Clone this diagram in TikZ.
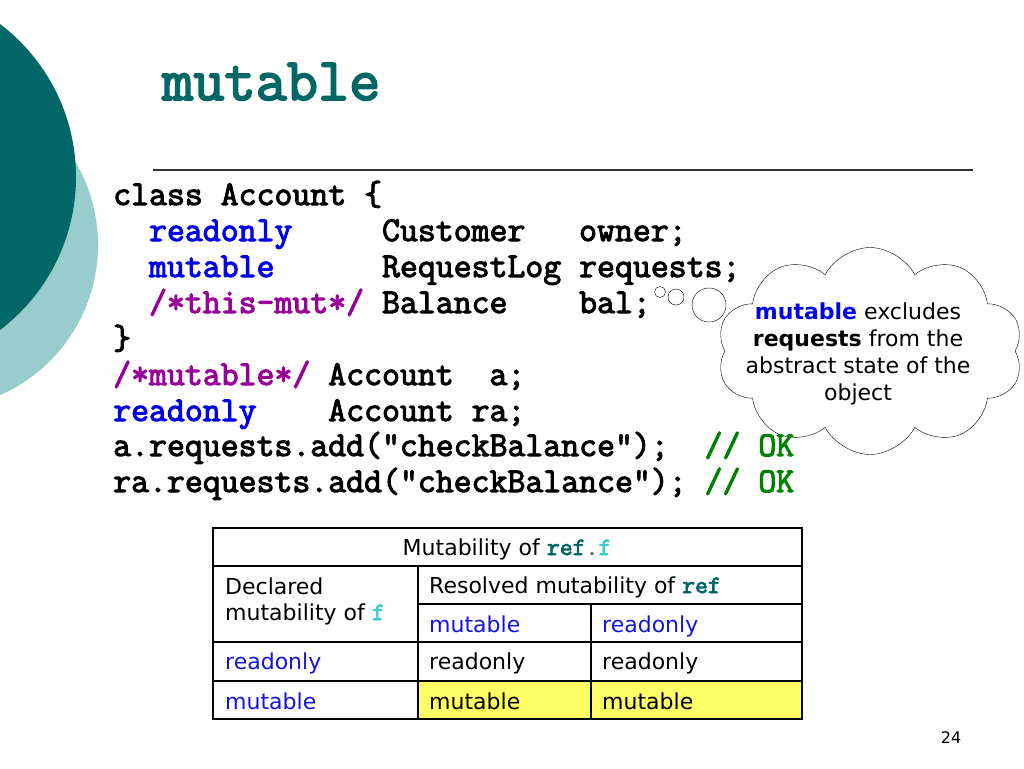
\documentclass[tikz,border=0pt]{standalone}
\usepackage{fontspec}
\setmainfont{DejaVu Sans}
\newfontfamily\codefont{Latin Modern Mono}[FakeBold=3]
\usetikzlibrary{shapes.symbols}

\definecolor{darkteal}{RGB}{0,102,102}
\definecolor{lightteal}{RGB}{153,204,204}
\definecolor{kwblue}{RGB}{0,0,235}
\definecolor{cmtpurple}{RGB}{153,0,153}
\definecolor{okgreen}{RGB}{0,128,0}
\definecolor{tblblue}{RGB}{20,20,220}
\definecolor{fcyan}{RGB}{51,204,204}
\definecolor{cellyellow}{RGB}{255,255,102}

\newcommand{\kw}[1]{\textcolor{kwblue}{#1}}
\newcommand{\cmt}[1]{\textcolor{cmtpurple}{#1}}
\newcommand{\gap}[1]{\hspace*{#1\fontcharwd\font`x}}
\newcommand{\mono}[2]{{\codefont\fontsize{25}{26}\selectfont\textcolor{#1}{#2}}}

\tikzset{
  code/.style={anchor=base west, inner sep=0pt,
    font=\codefont\fontsize{34.8}{36}\selectfont},
  cell/.style={anchor=base west, inner sep=0pt,
    font=\fontsize{22}{26}\selectfont},
}

\begin{document}
\begin{tikzpicture}[x=1pt,y=-1pt]
    \useasboundingbox (0,0) rectangle (1024,768);
    \clip (0,0) rectangle (1024,768);
    \fill [lightteal] (-66,245) circle [radius=164];
    \fill [darkteal]  (-116,177) circle [radius=192];
    \node [anchor=base west, inner sep=0pt, text=darkteal,
      font=\codefont\fontsize{60.5}{62}\selectfont] (title) at (162,100) {mutable};
    \draw [line width=1.2pt, black!80] (153,170) -- (973,170);

    % thought bubble
    \node [cloud, draw, fill=white, cloud puffs=10, cloud puff arc=125, aspect=1.5,
      minimum width=306, minimum height=207, inner sep=0pt] (note) at (870,351) {};
    \draw (660,292) circle [radius=5.5]
          (676,297) circle [radius=8]
          (709,305) circle [radius=17];
    \node [align=center, inner sep=0pt, font=\fontsize{22}{27}\selectfont] (notetext) at (858,354)
      {\textbf{\kw{mutable}} excludes\\ \textbf{requests} from the\\ abstract state of the\\ object};

    % code
    \node [code] (l1) at (113,205) {class Account \{};
    \node [code] (l2) at (113,241) {\gap{2}\kw{readonly}\gap{5}Customer\gap{3}owner;};
    \node [code] (l3) at (113,277) {\gap{2}\kw{mutable}\gap{6}RequestLog\gap{1}requests;};
    \node [code] (l4) at (113,313) {\gap{2}\cmt{/*this-mut*/}\gap{1}Balance\gap{4}bal;};
    \node [code] (l5) at (113,349) {\}};
    \node [code] (l6) at (113,385) {\cmt{/*mutable*/}\gap{1}Account\gap{2}a;};
    \node [code] (l7) at (113,421) {\kw{readonly}\gap{4}Account\gap{1}ra;};
    \node [code] (l8) at (113,456) {a.requests.add(“checkBalance”);\gap{2}\textcolor{okgreen}{//\gap{1}OK}};
    \node [code] (l9) at (113,492) {ra.requests.add(“checkBalance”);\gap{1}\textcolor{okgreen}{//\gap{1}OK}};

    % table
    \fill [cellyellow] (418,681) rectangle (802,719);
    \draw [line width=1.2pt] (213,566) -- (802,566)
          (418,604) -- (802,604)
          (213,642) -- (802,642)
          (213,681) -- (802,681)
          (418,566) -- (418,719)
          (591,604) -- (591,719);
    \draw [line width=2.8pt] (213,528) rectangle (802,719);
    \node [cell, anchor=base] (hdr) at (507,555)
      {Mutability of \mono{darkteal}{ref}\mono{black!60}{.}\mono{fcyan}{f}};
    \node [cell] (decl) at (225,594) {Declared};
    \node [cell] (declf) at (225,620) {mutability of \mono{fcyan}{f}};
    \node [cell] (resolved) at (429,593) {Resolved mutability of \mono{darkteal}{ref}};
    \node [cell, text=tblblue] (colmut) at (429,632) {mutable};
    \node [cell, text=tblblue] (colro) at (602,632) {readonly};
    \node [cell, text=tblblue] (rowro) at (225,669) {readonly};
    \node [cell] (roro) at (429,669) {readonly};
    \node [cell] (roro2) at (602,669) {readonly};
    \node [cell, text=tblblue] (rowmut) at (225,709) {mutable};
    \node [cell] (mutmut) at (429,709) {mutable};
    \node [cell] (mutmut2) at (602,709) {mutable};

    \node [anchor=base, inner sep=0pt, font=\fontsize{16}{18}\selectfont] (pagenum) at (951,743) {24};
\end{tikzpicture}
\end{document}
